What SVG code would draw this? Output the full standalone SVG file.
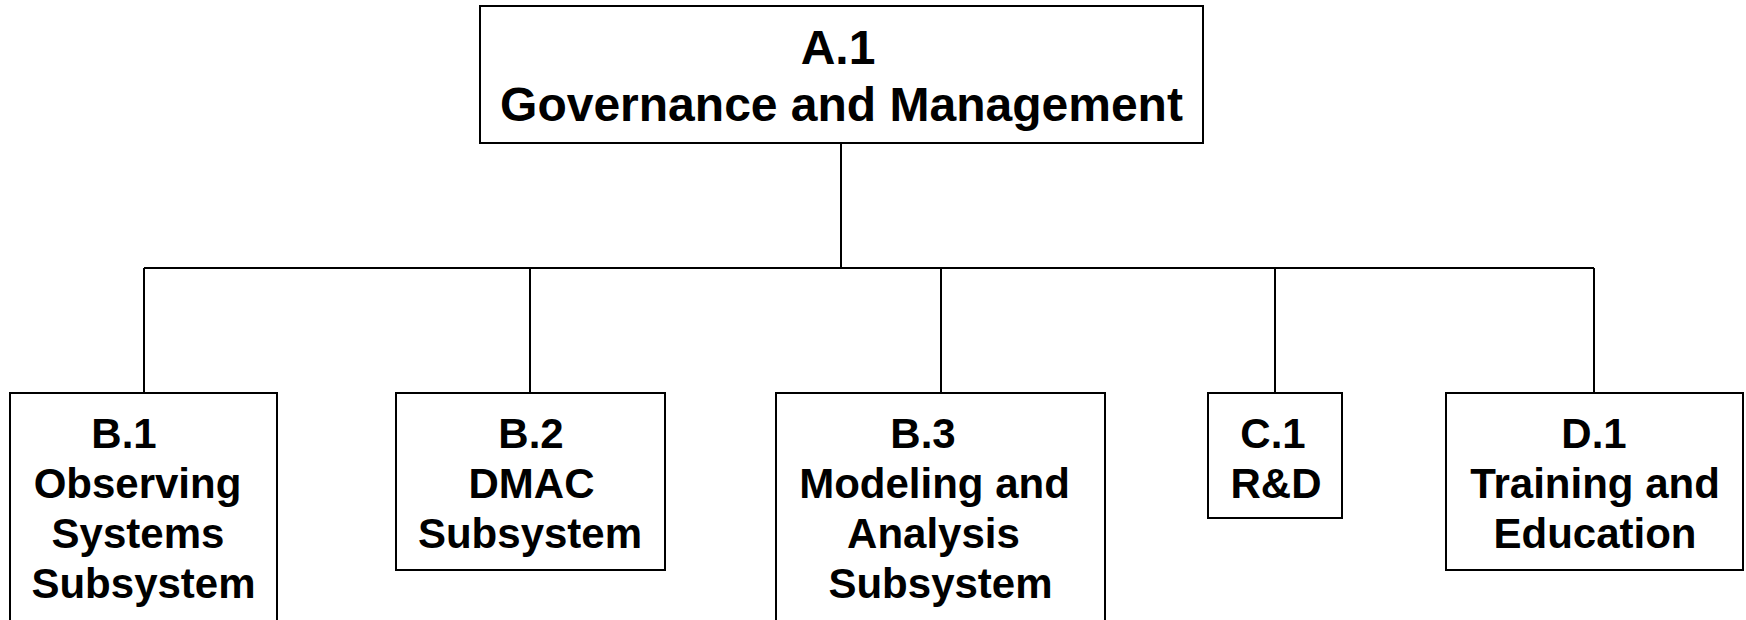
<svg xmlns="http://www.w3.org/2000/svg" width="1746" height="620" viewBox="0 0 1746 620">
<style>
.box{fill:#fff;stroke:#000;stroke-width:2}
.ln{fill:none;stroke:#000;stroke-width:2}
text{font-family:"Liberation Sans",Arial,sans-serif;font-weight:bold;fill:#000;text-anchor:middle}
.t1{font-size:48px}
.t2{font-size:42px}
</style>
<rect width="1746" height="620" fill="#fff"/>
<g id="connectors">
<path class="ln" d="M841,143 V268"/>
<path class="ln" d="M144,268 H1594"/>
<path class="ln" d="M144,268 V393 M530,268 V393 M941,268 V393 M1275,268 V393 M1594,268 V393"/>
</g>
<g id="A1">
<rect class="box" x="480" y="6" width="723" height="137"/>
<text class="t1" x="838" y="64">A.1</text>
<text class="t1" x="841.5" y="121">Governance and Management</text>
</g>
<g id="B1">
<rect class="box" x="10" y="393" width="267" height="240"/>
<text class="t2" x="124" y="448">B.1</text>
<text class="t2" x="137.5" y="498">Observing</text>
<text class="t2" x="138" y="548">Systems</text>
<text class="t2" x="143.5" y="598">Subsystem</text>
</g>
<g id="B2">
<rect class="box" x="396" y="393" width="269" height="177"/>
<text class="t2" x="531" y="448">B.2</text>
<text class="t2" x="531.5" y="498">DMAC</text>
<text class="t2" x="530" y="548">Subsystem</text>
</g>
<g id="B3">
<rect class="box" x="776" y="393" width="329" height="240"/>
<text class="t2" x="923" y="448">B.3</text>
<text class="t2" x="934.5" y="498">Modeling and</text>
<text class="t2" x="933.5" y="548">Analysis</text>
<text class="t2" x="940.5" y="598">Subsystem</text>
</g>
<g id="C1">
<rect class="box" x="1208" y="393" width="134" height="125"/>
<text class="t2" x="1273" y="448">C.1</text>
<text class="t2" x="1276" y="498">R&amp;D</text>
</g>
<g id="D1">
<rect class="box" x="1446" y="393" width="297" height="177"/>
<text class="t2" x="1594" y="448">D.1</text>
<text class="t2" x="1595" y="498">Training and</text>
<text class="t2" x="1595" y="548">Education</text>
</g>
</svg>
